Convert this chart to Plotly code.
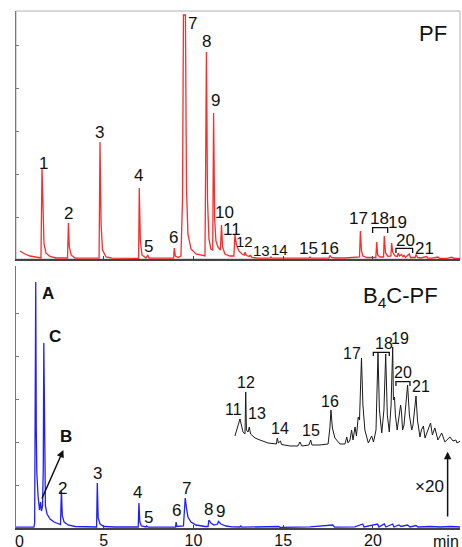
import plotly.graph_objects as go

# ---------------- data (time in min, intensity in arbitrary units) ----------------
pf_t = [0.33, 0.61, 0.89, 1.34, 1.50, 1.56, 1.62, 1.67, 1.78, 2.00, 2.34,
        2.98, 3.03, 3.08, 3.18, 3.40,
        4.74, 4.79, 4.85, 4.93, 5.13, 5.46,
        6.94, 6.98, 7.04, 7.13, 7.35, 7.45, 7.52, 8.13,
        8.89, 8.93, 8.99, 9.14,
        9.30, 9.39, 9.44, 9.55, 9.61, 9.69, 9.86, 10.14, 10.53,
        10.64, 10.68, 10.72, 10.78, 10.86, 10.97,
        11.07, 11.12, 11.18, 11.25, 11.36,
        11.50, 11.56, 11.62, 11.75, 12.03,
        12.25, 12.31, 12.40, 12.53, 12.70,
        12.84, 12.87, 12.95, 13.12, 13.15, 13.26, 13.59,
        14.26, 14.32, 14.37, 15.38, 15.93,
        16.43, 16.49, 16.55, 17.55, 17.60, 17.69, 17.88,
        18.44, 18.83, 19.25, 19.30, 19.36, 19.44, 19.67,
        20.16, 20.21, 20.26, 20.39, 20.59, 20.63, 20.70, 20.84,
        21.00, 21.04, 21.10, 21.23,
        21.36, 21.41, 21.48, 21.59, 21.67, 21.73, 21.81, 22.02, 22.09,
        22.35, 22.40, 22.48, 22.67, 22.99, 23.06, 23.29, 23.62, 23.70,
        24.12, 24.40, 24.51, 24.85]
pf_y = [8, 5, 3, 1, 1, 91, 40, 15, 6, 2.5, 1,
        1, 36, 12, 4, 1,
        0.8, 117, 35, 9, 2, 0.8,
        0.7, 71, 18, 4, 1, 4, 1, 0.8,
        0.8, 11, 3, 1.5,
        3, 60, 244, 244, 70, 25, 10, 5, 3,
        3, 100, 207, 60, 20, 10,
        9, 146, 40, 18, 12,
        9, 34, 12, 5, 3,
        3, 24, 14, 8, 5,
        4, 7, 3.5, 2.5, 4, 1.5, 0.8,
        0.8, 2, 0.8, 0.8, 0.8,
        0.8, 2, 0.8, 1, 3.5, 1.5, 1,
        1, 1.5, 2, 28, 8, 3, 1.5,
        1.5, 17, 4, 2, 2, 23, 6, 2.5,
        3, 16, 7, 3,
        2.5, 6, 3, 4.5, 2, 4, 1.5, 5, 1.5,
        1.5, 4.5, 1.5, 1, 2.5, 0.8, 0.8, 2, 0.7,
        0.7, 1.8, 0.7, 0.7]

b4c_t = [0.11, 1.11, 1.15, 1.19, 1.21, 1.24, 1.27, 1.34, 1.42, 1.48, 1.53, 1.59,
         1.63, 1.66, 1.70, 1.75, 1.84, 2.01, 2.23, 2.45, 2.59,
         2.64, 2.69, 2.79, 3.01, 3.40, 3.96,
         4.60, 4.64, 4.69, 4.79, 5.01, 5.63,
         6.92, 6.96, 7.01, 7.10, 7.35, 7.39, 7.47, 8.41,
         9.00, 9.03, 9.08,
         9.44, 9.50, 9.54, 9.61, 9.69, 9.86, 10.14, 10.64,
         10.81, 10.86, 10.97, 11.14,
         11.34, 11.39, 11.53, 11.81, 12.14,
         12.59, 12.64, 12.70, 14.76, 14.82, 16.49, 17.76, 17.86,
         19.00, 19.43, 19.50, 20.26, 20.33, 20.63, 20.72, 21.10, 21.17,
         21.45, 21.56, 21.93, 22.06, 22.40, 22.51, 23.18, 23.73, 24.35, 24.85]
b4c_y = [0.8, 0.8, 5, 150, 246, 98, 55, 32, 18, 26, 17, 22,
         60, 185, 60, 22, 14, 9, 6, 4, 3.5,
         38, 12, 6, 3, 1.5, 1,
         1, 45, 10, 4, 1.5, 1,
         1, 25, 6, 2, 1, 2, 0.8, 0.8,
         1, 6, 1.5,
         2, 20, 30, 20, 11, 6, 3, 1.5,
         1.5, 8, 5, 3,
         4, 6.5, 4, 2, 1.2,
         1, 2, 0.8, 1.5, 0.6, 1.2, 3, 0.8,
         1.2, 4, 1, 4, 1, 4, 1, 4, 1,
         3, 1.5, 3, 1, 2.5, 1, 1.5, 1, 1.5, 1]

# x20 expanded trace (displayed with vertical offset)
zoom_t = [12.31, 12.42, 12.59, 12.76, 12.87, 12.91, 12.95, 13.04, 13.11, 13.18,
          13.43, 13.70, 14.15, 14.62, 14.67, 14.73, 14.85, 14.90, 15.38, 15.82,
          15.93, 16.04, 16.43, 16.53, 16.60, 17.05, 17.50, 17.60, 17.66, 17.74,
          17.88, 18.16, 18.44, 18.54, 18.61, 18.72, 18.81, 18.89, 19.00, 19.08,
          19.18, 19.25, 19.36, 19.44, 19.55, 19.74, 19.83, 19.93, 20.03, 20.17,
          20.28, 20.36, 20.49, 20.61, 20.71, 20.80, 20.91, 21.01, 21.10, 21.14,
          21.20, 21.25, 21.35, 21.45, 21.54, 21.59, 21.65, 21.73, 21.81, 21.93,
          22.03, 22.16, 22.23, 22.40, 22.48, 22.62, 22.70, 22.81, 22.90, 23.04,
          23.21, 23.31, 23.45, 23.62, 23.83, 24.01, 24.29, 24.46, 24.62, 24.68, 24.87]
zoom_y = [92, 98, 109, 96, 94, 136, 98, 96, 101, 94,
          90, 88, 85, 84, 90, 85, 87, 83.5, 82, 82,
          86, 82, 83, 88, 83, 83, 84, 100, 118, 100,
          90, 84, 84, 91, 85, 88, 98, 88, 101, 92,
          111, 108, 170, 123, 98, 85, 88, 92, 86, 98,
          175, 118, 95, 118, 174, 113, 96, 123, 181, 128,
          131, 113, 98, 113, 123, 116, 98, 103, 120, 143,
          113, 98, 103, 132, 108, 91, 98, 102, 90, 96,
          105, 93, 100, 88, 95, 86, 91, 87, 88, 85, 87]

# peak labels
pf_lab = ["1", "2", "3", "4", "5", "6", "7", "8", "9", "10", "11", "12", "13",
          "14", "15", "16", "17", "18", "19", "20", "21"]
pf_lab_t = [1.63, 3.06, 4.75, 6.92, 7.52, 8.91, 9.93, 10.70, 11.21, 11.72, 12.13,
            12.82, 13.80, 14.80, 16.40, 17.57, 19.18, 20.35, 21.38, 21.84, 22.86]
pf_lab_y = [96, 46, 127, 84, 13, 22, 236, 218, 159, 46.3, 29.7,
            18, 9, 10, 10.7, 10.7, 40.7, 40.7, 36.3, 19, 10.7]

b4c_lab = ["2", "3", "4", "5", "6", "7", "8", "9"]
b4c_lab_t = [2.71, 4.64, 6.87, 7.52, 9.06, 9.62, 10.82, 11.48]
b4c_lab_y = [39.7, 54, 35.3, 10.3, 17, 39.7, 18.7, 16.3]

big_lab = ["A", "C", "B"]
big_lab_t = [1.91, 2.28, 2.90]
big_lab_y = [234, 191.3, 91.3]

zoom_lab = ["11", "12", "13", "14", "15", "16", "17", "18", "19", "20", "21"]
zoom_lab_t = [12.22, 12.92, 13.55, 14.82, 16.53, 17.60, 18.85, 20.63, 21.50, 21.65, 22.66]
zoom_lab_y = [118, 145.3, 114, 99, 97.3, 126.3, 174.7, 184.7, 189, 155.3, 141.3]

# bracket groups: (t_start, t_end, top level, tick bottom)
pf_brackets = [(19.98, 20.82, 31.3, 26.0), (21.28, 22.21, 10.7, 6.0)]
zoom_brackets = [(20.02, 20.91, 175.7, 172.0), (21.28, 22.06, 146.3, 142.0)]

x_ticks = [5, 10, 15, 20]
y_ticks = [42, 85, 128, 171, 214]

# ---------------- figure ----------------
FONT = "Liberation Sans, Arial, sans-serif"
fig = go.Figure()
fig.add_trace(go.Scatter(x=pf_t, y=pf_y, mode="lines", xaxis="x", yaxis="y",
                         line=dict(color="#ff2a2a", width=1.3), hoverinfo="skip"))
fig.add_trace(go.Scatter(x=b4c_t, y=b4c_y, mode="lines", xaxis="x2", yaxis="y2",
                         line=dict(color="#2020ff", width=1.3), hoverinfo="skip"))
fig.add_trace(go.Scatter(x=zoom_t, y=zoom_y, mode="lines", xaxis="x2", yaxis="y2",
                         line=dict(color="#1a1a1a", width=1.0), hoverinfo="skip"))

ann = []
for s, t, y in zip(pf_lab, pf_lab_t, pf_lab_y):
    small = s in ("12", "13", "14")
    ann.append(dict(x=t, y=y, xref="x", yref="y", text=s, showarrow=False,
                    font=dict(size=15 if small else 17, color="#111", family=FONT)))
for s, t, y in zip(b4c_lab, b4c_lab_t, b4c_lab_y):
    ann.append(dict(x=t, y=y, xref="x2", yref="y2", text=s, showarrow=False,
                    font=dict(size=17, color="#111", family=FONT)))
for s, t, y in zip(big_lab, big_lab_t, big_lab_y):
    ann.append(dict(x=t, y=y, xref="x2", yref="y2", text="<b>%s</b>" % s, showarrow=False,
                    font=dict(size=17, color="#111", family=FONT)))
for s, t, y in zip(zoom_lab, zoom_lab_t, zoom_lab_y):
    ann.append(dict(x=t, y=y, xref="x2", yref="y2", text=s, showarrow=False,
                    font=dict(size=16, color="#111", family=FONT)))
ann.append(dict(x=23.36, y=225.7, xref="x", yref="y", text="PF", showarrow=False,
                font=dict(size=22, color="#111", family=FONT)))
ann.append(dict(x=21.56, y=231.3, xref="x2", yref="y2", text="B<sub>4</sub>C-PF",
                showarrow=False, font=dict(size=22, color="#111", family=FONT)))
ann.append(dict(x=23.14, y=41.3, xref="x2", yref="y2", text="×20", showarrow=False,
                font=dict(size=17, color="#111", family=FONT)))
# arrows
ann.append(dict(x=2.75, y=78, xref="x2", yref="y2", ax=1.52, ay=28, axref="x2", ayref="y2",
                text="", showarrow=True, arrowhead=2, arrowsize=1, arrowwidth=1.5,
                arrowcolor="#111"))
ann.append(dict(x=24.16, y=76.3, xref="x2", yref="y2", ax=24.16, ay=10, axref="x2", ayref="y2",
                text="", showarrow=True, arrowhead=2, arrowsize=1, arrowwidth=1.5,
                arrowcolor="#111"))
# axis end labels ("0" sits just right of the axis origin, "min" at the far end)
ann.append(dict(x=0.28, y=0, xref="x2", yref="paper", yanchor="top", yshift=-3,
                text="0", showarrow=False, font=dict(size=16, color="#111", family=FONT)))
ann.append(dict(x=24.07, y=0, xref="x2", yref="paper", yanchor="top", yshift=-3,
                text="min", showarrow=False, font=dict(size=16, color="#111", family=FONT)))

shapes = [dict(type="rect", xref="x domain", yref="y domain", x0=0, x1=1, y0=0, y1=1,
               line=dict(color="#b0b0b0", width=1), layer="below")]
for (a, b, top, bot) in pf_brackets:
    shapes.append(dict(type="path", xref="x", yref="y",
                       path="M %s,%s L %s,%s L %s,%s L %s,%s" % (a, bot, a, top, b, top, b, bot),
                       line=dict(color="#111", width=1.3)))
for (a, b, top, bot) in zoom_brackets:
    shapes.append(dict(type="path", xref="x2", yref="y2",
                       path="M %s,%s L %s,%s L %s,%s L %s,%s" % (a, bot, a, top, b, top, b, bot),
                       line=dict(color="#111", width=1.3)))

xr = [0.11, 24.85]
fig.update_layout(
    width=462, height=547, autosize=False,
    margin=dict(l=16, r=2, t=11, b=19),
    paper_bgcolor="white", plot_bgcolor="white", showlegend=False,
    font=dict(family=FONT, size=17, color="#111"),
    xaxis=dict(domain=[0, 1], anchor="y", range=xr, showgrid=False, zeroline=False,
               showline=True, linecolor="#444", linewidth=1.5, ticks="inside", ticklen=3,
               tickcolor="#444", tickvals=x_ticks, showticklabels=False),
    yaxis=dict(domain=[0.5203, 1], anchor="x", range=[0, 248], showgrid=False, zeroline=False,
               showline=True, linecolor="#777", linewidth=1.2, ticks="inside", ticklen=3,
               tickcolor="#777", tickvals=y_ticks, showticklabels=False),
    xaxis2=dict(domain=[0, 1], anchor="y2", range=xr, showgrid=False, zeroline=False,
                showline=True, linecolor="#444", linewidth=2, ticks="inside", ticklen=3,
                tickcolor="#444", tickvals=x_ticks, ticktext=[str(v) for v in x_ticks],
                ticklabelstandoff=-3,
                tickfont=dict(size=16, color="#111", family=FONT), automargin=False),
    yaxis2=dict(domain=[0, 0.5068], anchor="x2", range=[0, 262], showgrid=False, zeroline=False,
                showline=True, linecolor="#777", linewidth=1.2, ticks="inside", ticklen=3,
                tickcolor="#777", tickvals=y_ticks, showticklabels=False),
    annotations=ann, shapes=shapes,
)
fig.write_html("out.html", config={"displayModeBar": False},
               post_script="document.body.style.margin='0';document.body.style.overflow='hidden';")
